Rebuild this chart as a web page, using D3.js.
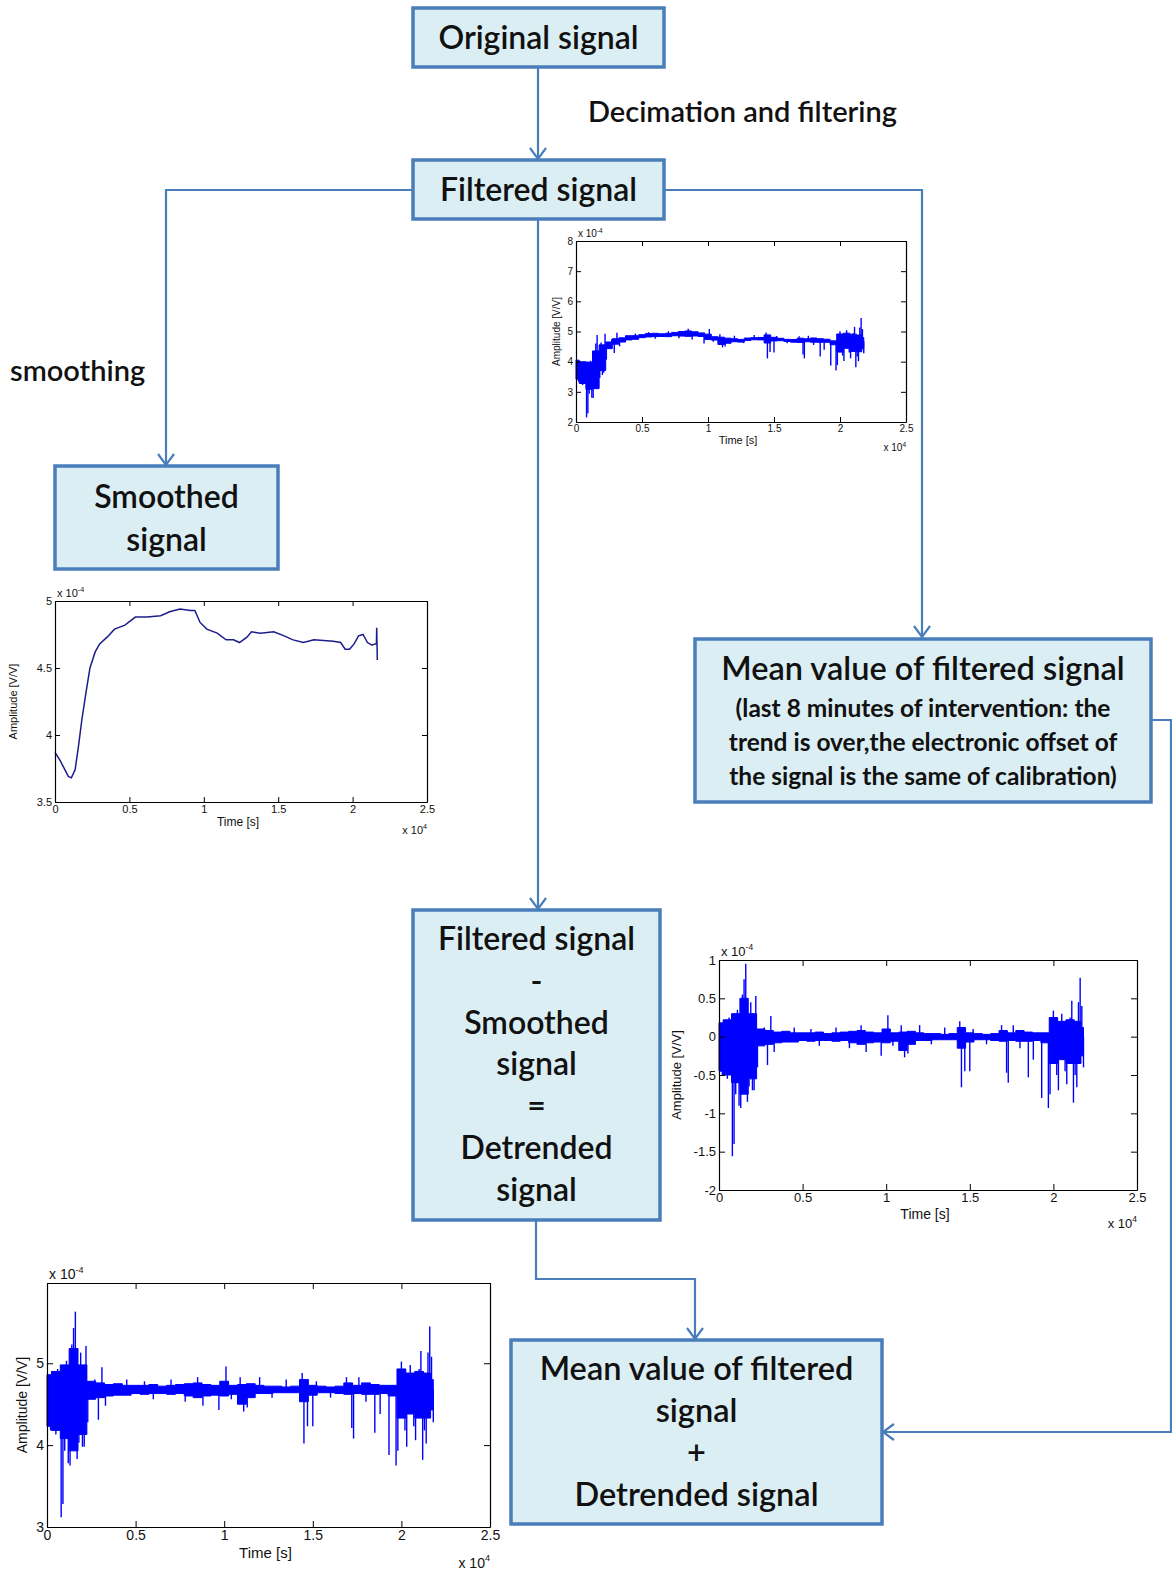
<!DOCTYPE html>
<html>
<head>
<meta charset="utf-8">
<script src="https://cdn.jsdelivr.net/npm/d3@7"></script>
<style>
  body { margin: 0; background: #fff; }
  svg { display: block; }
</style>
</head>
<body>
<div id="chart"></div>
<script>
// time axis ticks (x 10^4 s), shared by all panels
const timeTicks = [0, 0.5, 1, 1.5, 2, 2.5];

// smoothed signal (x 10^-4 V/V)
const smoothT = [0, 0.034, 0.067, 0.09, 0.11, 0.135, 0.157, 0.18, 0.21, 0.235, 0.27, 0.3, 0.35, 0.4, 0.47,
  0.54, 0.62, 0.71, 0.77, 0.84, 0.91, 0.94, 0.975, 1.02, 1.09, 1.15, 1.2, 1.24, 1.29, 1.32, 1.38, 1.47,
  1.54, 1.6, 1.67, 1.74, 1.87, 1.92, 1.95, 1.98, 2.01, 2.04, 2.07, 2.1, 2.13, 2.15, 2.16, 2.162, 2.166];
const smoothV = [3.87, 3.81, 3.74, 3.69, 3.68, 3.74, 3.91, 4.11, 4.33, 4.5, 4.62, 4.68, 4.73, 4.79, 4.82,
  4.88, 4.88, 4.89, 4.92, 4.94, 4.93, 4.93, 4.84, 4.79, 4.76, 4.71, 4.71, 4.69, 4.73, 4.77, 4.76, 4.77,
  4.74, 4.71, 4.69, 4.71, 4.7, 4.69, 4.64, 4.64, 4.68, 4.74, 4.75, 4.69, 4.67, 4.68, 4.68, 4.8, 4.56];

// detrended signal: dense noise band (low / high edge) and the single spikes
const bandT = [0, 0.05, 0.1, 0.15, 0.2, 0.25, 0.3, 0.35, 0.4, 0.45, 0.5, 0.55, 0.6, 0.65, 0.7, 0.75, 0.8,
  0.85, 0.9, 0.95, 1, 1.05, 1.1, 1.15, 1.2, 1.25, 1.3, 1.35, 1.4, 1.45, 1.5, 1.55, 1.6, 1.65, 1.7, 1.75,
  1.8, 1.85, 1.9, 1.95, 2, 2.05, 2.1, 2.15, 2.18];
const bandLo = [-0.45, -0.5, -0.6, -0.75, -0.55, -0.12, -0.1, -0.08, -0.07, -0.07, -0.05, -0.06, -0.05,
  -0.05, -0.06, -0.05, -0.08, -0.1, -0.08, -0.07, -0.08, -0.06, -0.18, -0.1, -0.05, -0.05, -0.04, -0.04,
  -0.04, -0.15, -0.07, -0.04, -0.04, -0.05, -0.06, -0.05, -0.06, -0.06, -0.05, -0.08, -0.35, -0.3, -0.35,
  -0.35, -0.25];
const bandHi = [0.18, 0.22, 0.3, 0.5, 0.3, 0.1, 0.08, 0.06, 0.07, 0.05, 0.05, 0.05, 0.06, 0.04, 0.05, 0.06,
  0.07, 0.08, 0.06, 0.05, 0.1, 0.05, 0.06, 0.07, 0.05, 0.04, 0.04, 0.03, 0.04, 0.12, 0.05, 0.04, 0.03,
  0.04, 0.08, 0.05, 0.08, 0.06, 0.05, 0.05, 0.25, 0.2, 0.22, 0.2, 0.12];
const spikeT = [0.02, 0.03, 0.05, 0.06, 0.08, 0.09, 0.1, 0.11, 0.12, 0.13, 0.14, 0.15, 0.16, 0.17, 0.18,
  0.19, 0.2, 0.21, 0.22, 0.23, 0.27, 0.29, 0.31, 0.33, 0.45, 0.55, 0.6, 0.7, 0.78, 0.85, 0.88, 0.97, 1.01,
  1.04, 1.09, 1.11, 1.13, 1.2, 1.27, 1.35, 1.44, 1.45, 1.47, 1.5, 1.52, 1.6, 1.69, 1.72, 1.73, 1.76, 1.8,
  1.85, 1.88, 1.93, 1.97, 1.98, 2, 2.02, 2.03, 2.05, 2.07, 2.08, 2.1, 2.11, 2.12, 2.13, 2.14, 2.15, 2.16,
  2.17, 2.18];
const spikeV = [-0.5, 0.2, -0.55, 0.25, -1.56, -1.4, -0.75, 0.35, -0.9, -0.93, 0.55, 0.75, 0.95, -0.85,
  -0.65, 0.45, -0.7, -0.7, 0.53, -0.4, 0.12, -0.37, 0.27, -0.2, 0.12, 0.1, -0.12, 0.12, -0.15, 0.15, -0.2,
  -0.25, 0.28, -0.12, 0.15, -0.27, -0.22, 0.15, -0.1, 0.12, 0.2, -0.66, -0.45, -0.45, 0.1, -0.1, 0.15,
  -0.47, -0.6, 0.15, -0.15, -0.53, -0.3, -0.8, -0.93, -0.75, 0.34, -0.5, -0.7, 0.3, -0.45, -0.62, 0.25,
  0.47, -0.86, -0.5, -0.66, 0.45, 0.77, 0.4, -0.4];

// mean value of the filtered signal over the last minutes (x 10^-4)
const meanValue = 4.68;

const W = 1172, H = 1572;
const blue = "#4a7ebb";
const boxFont = "Lato, 'Open Sans', sans-serif";
const plotFont = "'Liberation Sans', Arial, sans-serif";

const svg = d3.select("#chart").append("svg")
  .attr("width", W).attr("height", H)
  .attr("viewBox", [0, 0, W, H]);

// ---------- connectors ----------
const links = [
  { pts: [[538, 67], [538, 159]], dir: "down" },
  { pts: [[413, 190], [166, 190], [166, 465]], dir: "down" },
  { pts: [[664, 190], [922, 190], [922, 637]], dir: "down" },
  { pts: [[538, 219], [538, 909]], dir: "down" },
  { pts: [[536, 1220], [536, 1279], [695, 1279], [695, 1339]], dir: "down" },
  { pts: [[1151, 720], [1171, 720], [1171, 1432], [883, 1432]], dir: "left" }
];
const line = d3.line();
svg.append("g").selectAll("path.link").data(links).join("path")
  .attr("class", "link")
  .attr("d", d => line(d.pts))
  .attr("fill", "none").attr("stroke", blue).attr("stroke-width", 2.2);

svg.append("g").selectAll("path.head").data(links).join("path")
  .attr("class", "head")
  .attr("d", d => {
    const [x, y] = d.pts[d.pts.length - 1];
    return d.dir === "down"
      ? line([[x - 8, y - 11], [x, y], [x + 8, y - 11]])
      : line([[x + 11, y - 8], [x, y], [x + 11, y + 8]]);
  })
  .attr("fill", "none").attr("stroke", blue).attr("stroke-width", 2.2);

// ---------- boxes ----------
const boxes = [
  { x: 413, y: 8, w: 251, h: 59, size: 32, lines: ["Original signal"], y0: 49, dy: 0 },
  { x: 413, y: 160, w: 251, h: 59, size: 32, lines: ["Filtered signal"], y0: 201, dy: 0 },
  { x: 55, y: 466, w: 223, h: 103, size: 32, lines: ["Smoothed", "signal"], y0: 508, dy: 43 },
  { x: 695, y: 639, w: 456, h: 163, size: 32.5, lines: ["Mean value of filtered signal"], y0: 680, dy: 0 },
  { x: 413, y: 910, w: 247, h: 310, size: 32,
    lines: ["Filtered signal", "-", "Smoothed", "signal", "=", "Detrended", "signal"], y0: 950, dy: 41.8 },
  { x: 511, y: 1340, w: 371, h: 184, size: 32.5,
    lines: ["Mean value of filtered", "signal", "+", "Detrended signal"], y0: 1380, dy: 42 }
];
const gBox = svg.append("g").selectAll("g").data(boxes).join("g");
gBox.append("rect")
  .attr("x", d => d.x).attr("y", d => d.y)
  .attr("width", d => d.w).attr("height", d => d.h)
  .attr("fill", "#dbeef4").attr("stroke", blue).attr("stroke-width", 3.5);
gBox.each(function (d) {
  d3.select(this).selectAll("text").data(d.lines).join("text")
    .attr("x", d.x + d.w / 2)
    .attr("y", (s, i) => d.y0 + i * d.dy)
    .attr("text-anchor", "middle")
    .attr("font-family", boxFont).attr("font-weight", 600)
    .attr("font-size", d.size).attr("fill", "#111")
    .text(s => s);
});

// small print inside the mean value box
const noteLines = ["(last 8 minutes of intervention: the",
  "trend is over,the electronic offset of",
  "the signal is the same of calibration)"];
svg.append("g").selectAll("text").data(noteLines).join("text")
  .attr("x", 923).attr("y", (d, i) => 717 + i * 34)
  .attr("text-anchor", "middle")
  .attr("font-family", boxFont).attr("font-weight", 700)
  .attr("font-size", 24.5).attr("fill", "#111")
  .text(d => d);

// free labels
const labels = [
  { x: 588, y: 122, text: "Decimation and filtering" },
  { x: 10, y: 381, text: "smoothing" }
];
svg.append("g").selectAll("text").data(labels).join("text")
  .attr("x", d => d.x).attr("y", d => d.y)
  .attr("font-family", boxFont).attr("font-weight", 600)
  .attr("font-size", 29).attr("fill", "#111")
  .text(d => d.text);

// ---------- plots ----------
// trend used under the filtered signal (end artefact of the smoother left out)
const trendAt = d3.scaleLinear().domain(smoothT.slice(0, -2)).range(smoothV.slice(0, -2)).clamp(true);

function panel(cfg) {
  const { left, top, width, height, fs } = cfg;
  const g = svg.append("g");
  const x = d3.scaleLinear().domain([0, 2.5]).range([left, left + width]);
  const y = d3.scaleLinear().domain(cfg.yDomain).range([top + height, top]);

  g.append("rect").attr("x", left).attr("y", top).attr("width", width).attr("height", height)
    .attr("fill", "#fff");

  const base = cfg.base;
  if (cfg.noisy) {
    const band = bandT.map((t, i) => ({ t, lo: base(t) + bandLo[i], hi: base(t) + bandHi[i] }));
    g.append("path").datum(band)
      .attr("d", d3.area().curve(d3.curveStep)
        .x(d => x(d.t)).y0(d => y(d.lo)).y1(d => y(d.hi)))
      .attr("fill", "#0000ff").attr("stroke", "#0000ff").attr("stroke-width", 1);
    g.append("g").selectAll("line").data(spikeT).join("line")
      .attr("x1", t => x(t)).attr("x2", t => x(t))
      .attr("y1", t => y(base(t)))
      .attr("y2", (t, i) => y(base(t) + spikeV[i]))
      .attr("stroke", "#0000ff").attr("stroke-width", 1.4);
  } else {
    g.append("path").datum(smoothT.map((t, i) => [t, smoothV[i]]))
      .attr("d", d3.line().x(d => x(d[0])).y(d => y(d[1])))
      .attr("fill", "none").attr("stroke", "#1c1c8c").attr("stroke-width", 1.5);
  }

  const tk = Math.round(fs * 0.45);
  const axes = [
    [d3.axisBottom(x).tickValues(timeTicks).tickFormat(d => String(d)), `translate(0,${top + height})`],
    [d3.axisTop(x).tickValues(timeTicks).tickFormat(""), `translate(0,${top})`],
    [d3.axisLeft(y).tickValues(cfg.yTicks).tickFormat(d => String(d)), `translate(${left},0)`],
    [d3.axisRight(y).tickValues(cfg.yTicks).tickFormat(""), `translate(${left + width},0)`]
  ];
  axes.forEach(([ax, tr]) => {
    const a = g.append("g").attr("transform", tr)
      .call(ax.tickSizeInner(-tk).tickSizeOuter(0).tickPadding(3));
    a.select(".domain").attr("stroke", "#000").attr("stroke-width", 1.2);
    a.selectAll(".tick line").attr("stroke", "#000");
    a.selectAll("text").attr("font-family", plotFont).attr("font-size", fs).attr("fill", "#111");
  });

  // axis titles
  g.append("text")
    .attr("x", left + width / 2 - 3).attr("y", top + height + fs * 2.2)
    .attr("text-anchor", "middle").attr("font-family", plotFont)
    .attr("font-size", fs + 1).attr("fill", "#111").text("Time [s]");
  g.append("text")
    .attr("transform", `translate(${left - cfg.ylabOff},${top + height / 2}) rotate(-90)`)
    .attr("text-anchor", "middle").attr("font-family", plotFont)
    .attr("font-size", fs).attr("fill", "#111").text("Amplitude [V/V]");

  // exponent labels
  const expo = (tx, ty, p, anchor) => {
    const t = g.append("text").attr("x", tx).attr("y", ty).attr("text-anchor", anchor)
      .attr("font-family", plotFont).attr("font-size", fs).attr("fill", "#111");
    t.append("tspan").text("x 10");
    t.append("tspan").attr("dy", -fs * 0.45).attr("font-size", fs * 0.65).text(p);
  };
  expo(left + width, top + height + fs * 2.9, "4", "end");
  expo(left + 2, top - 4, "-4", "start");
}

// filtered signal = smoothed trend + detrended
panel({ left: 576, top: 241, width: 330, height: 181, fs: 10,
  yDomain: [2, 8], yTicks: [2, 3, 4, 5, 6, 7, 8], ylabOff: 16, noisy: true, base: t => trendAt(t) });
// smoothed signal
panel({ left: 55, top: 601, width: 372, height: 201, fs: 11,
  yDomain: [3.5, 5], yTicks: [3.5, 4, 4.5, 5], ylabOff: 38, noisy: false });
// detrended signal
panel({ left: 719, top: 960, width: 418, height: 230, fs: 13,
  yDomain: [-2, 1], yTicks: [-2, -1.5, -1, -0.5, 0, 0.5, 1], ylabOff: 38, noisy: true, base: () => 0 });
// mean value + detrended signal
panel({ left: 47, top: 1283, width: 443, height: 244, fs: 14,
  yDomain: [3, 5.98], yTicks: [3, 4, 5], ylabOff: 20, noisy: true, base: () => meanValue });
</script>
</body>
</html>
